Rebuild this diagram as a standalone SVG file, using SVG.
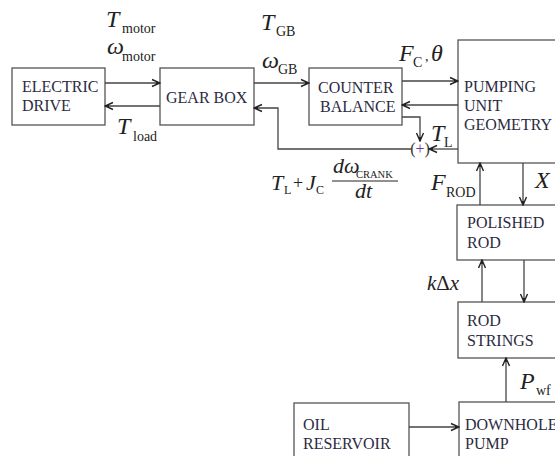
<svg xmlns="http://www.w3.org/2000/svg" width="555" height="456" viewBox="0 0 555 456">
<style>
.box{fill:#fff;stroke:#555;stroke-width:1.3}
.lbl{font-family:"Liberation Serif",serif;font-size:16px;fill:#2b2b3f}
.ln{fill:none;stroke:#444;stroke-width:1.3}
.m{font-family:"Liberation Serif",serif;font-style:italic;font-size:24px;fill:#222}
.s{font-family:"Liberation Serif",serif;font-size:14px;fill:#222}
.ss{font-family:"Liberation Serif",serif;font-size:10.5px;fill:#222}
</style>
<defs>
<marker id="a" markerWidth="10" markerHeight="10" refX="9" refY="5" orient="auto" markerUnits="userSpaceOnUse">
<path d="M1,1.5 L9,5 L1,8.5 M9,5 L5,5" fill="none" stroke="#222" stroke-width="1.4"/>
</marker>
</defs>
<rect width="555" height="456" fill="#fff"/>
<g id="electric-drive"><rect class="box" x="12" y="68" width="93" height="57"/><text class="lbl" x="22" y="92">ELECTRIC</text><text class="lbl" x="22" y="111">DRIVE</text></g>
<g id="gear-box"><rect class="box" x="160" y="68" width="94" height="57"/><text class="lbl" x="166" y="103">GEAR BOX</text></g>
<g id="counter-balance"><rect class="box" x="309" y="68" width="93" height="57"/><text class="lbl" x="318" y="93">COUNTER</text><text class="lbl" x="320" y="112">BALANCE</text></g>
<g id="pumping-unit"><rect class="box" x="458" y="40" width="110" height="123"/><text class="lbl" x="464" y="92">PUMPING</text><text class="lbl" x="464" y="111">UNIT</text><text class="lbl" x="464" y="130">GEOMETRY</text></g>
<g id="polished-rod"><rect class="box" x="457" y="205" width="110" height="55"/><text class="lbl" x="467" y="228">POLISHED</text><text class="lbl" x="467" y="248">ROD</text></g>
<g id="rod-strings"><rect class="box" x="458" y="302" width="110" height="56"/><text class="lbl" x="467" y="326">ROD</text><text class="lbl" x="467" y="346">STRINGS</text></g>
<g id="oil-reservoir"><rect class="box" x="294" y="403" width="115" height="60"/><text class="lbl" x="303" y="430">OIL</text><text class="lbl" x="303" y="449">RESERVOIR</text></g>
<g id="downhole-pump"><rect class="box" x="459" y="402" width="110" height="60"/><text class="lbl" x="465" y="430">DOWNHOLE</text><text class="lbl" x="465" y="449">PUMP</text></g>
<g id="sum"><text x="420" y="154" text-anchor="middle" font-family="Liberation Serif,serif" font-size="16" fill="#333">(<tspan fill="#6a3d9a">+</tspan>)</text></g>
<g id="connectors">
<line class="ln" x1="105" y1="83" x2="160" y2="83" marker-end="url(#a)"/>
<line class="ln" x1="160" y1="106" x2="105" y2="106" marker-end="url(#a)"/>
<line class="ln" x1="254" y1="83" x2="309" y2="83" marker-end="url(#a)"/>
<line class="ln" x1="402" y1="81" x2="458" y2="81" marker-end="url(#a)"/>
<line class="ln" x1="458" y1="105" x2="402" y2="105" marker-end="url(#a)"/>
<polyline class="ln" points="402,117 420,117 420,141" marker-end="url(#a)"/>
<line class="ln" x1="458" y1="149" x2="429" y2="149" marker-end="url(#a)"/>
<polyline class="ln" points="411,149 278,149 278,108 254,108" marker-end="url(#a)"/>
<line class="ln" x1="480" y1="205" x2="480" y2="163" marker-end="url(#a)"/>
<line class="ln" x1="523" y1="163" x2="523" y2="205" marker-end="url(#a)"/>
<line class="ln" x1="482" y1="302" x2="482" y2="260" marker-end="url(#a)"/>
<line class="ln" x1="524" y1="260" x2="524" y2="302" marker-end="url(#a)"/>
<line class="ln" x1="506" y1="402" x2="506" y2="358" marker-end="url(#a)"/>
<line class="ln" x1="409" y1="427" x2="459" y2="427" marker-end="url(#a)"/>
</g>
<g id="labels">
<text class="m" x="106" y="27">T</text><text class="s" x="122" y="33">motor</text>
<text class="m" x="107" y="54">ω</text><text class="s" x="122" y="61">motor</text>
<text class="m" x="261" y="30">T</text><text class="s" x="276" y="36">GB</text>
<text class="m" x="262" y="68">ω</text><text class="s" x="278" y="74">GB</text>
<text class="m" x="399" y="61">F</text><text class="s" x="413" y="67">C</text><text class="s" x="425" y="61">,</text><text class="m" x="431" y="61">θ</text>
<text class="m" x="117" y="134">T</text><text class="s" x="133" y="141">load</text>
<text class="m" x="431" y="141">T</text><text class="s" x="444" y="147">L</text>
<text class="m" x="271" y="190" style="font-size:22px">T</text><text class="s" x="284" y="194" style="font-size:12px">L</text>
<text class="s" x="293" y="189" style="font-size:18px">+</text>
<text class="m" x="306" y="190" style="font-size:22px">J</text><text class="s" x="316" y="194" style="font-size:12px">C</text>
<text class="m" x="333" y="173" style="font-size:22px">dω</text><text class="ss" x="356" y="178">CRANK</text>
<line x1="332" y1="181" x2="398" y2="181" stroke="#222" stroke-width="1"/>
<text class="m" x="355" y="198" style="font-size:22px">dt</text>
<text class="m" x="431" y="190">F</text><text class="s" x="446" y="197">ROD</text>
<text class="m" x="535" y="188">X</text>
<text class="m" x="427" y="290" style="font-size:21px">k<tspan font-style="normal">Δ</tspan>x</text>
<text class="m" x="520" y="389">P</text><text class="s" x="536" y="395">wf</text>
</g>
</svg>
